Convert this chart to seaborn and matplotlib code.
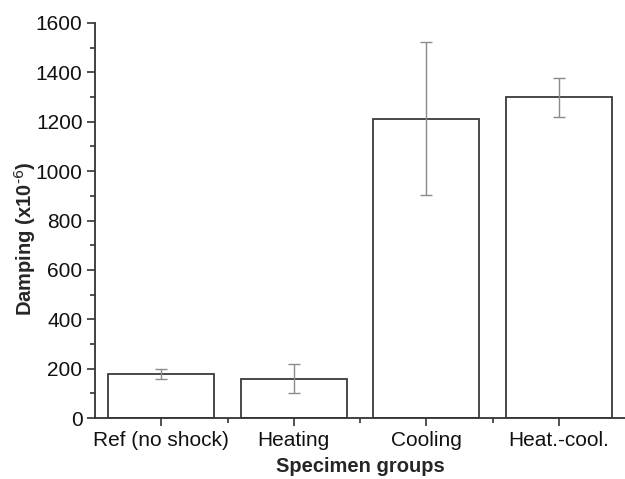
import matplotlib
matplotlib.use("Agg")
import matplotlib.pyplot as plt
import seaborn as sns
import numpy as np
import pandas as pd
from matplotlib.ticker import MultipleLocator

categories = ["Ref (no shock)", "Heating", "Cooling", "Heat.-cool."]
damping = [180, 160, 1212, 1300]
err_low = [20, 60, 310, 80]
err_high = [20, 60, 310, 78]

sns.set_style("ticks")
plt.rcParams['font.family'] = ['Liberation Sans', 'DejaVu Sans']

df = pd.DataFrame({"group": categories, "damping": damping})

fig = plt.figure(figsize=(6.25, 4.79), dpi=100)
ax = fig.add_axes([0.152, 0.127, 0.848, 0.825])

sns.barplot(data=df, x="group", y="damping", order=categories, ax=ax,
            color="white", edgecolor="#3a3a3a", linewidth=1.3, width=0.8,
            errorbar=None)
ax.errorbar(np.arange(len(categories)), damping, yerr=[err_low, err_high],
            fmt="none", ecolor="#8a8a8a", elinewidth=1.0, capsize=4, capthick=1.0)

ax.set_xlim(-0.5, 3.5)
ax.set_ylim(0, 1600)
ax.yaxis.set_major_locator(MultipleLocator(200))
ax.yaxis.set_minor_locator(MultipleLocator(100))
ax.set_xticks(np.arange(len(categories)))
ax.set_xticks(np.arange(len(categories) - 1) + 0.5, minor=True)

for s in ["top", "right"]:
    ax.spines[s].set_visible(False)
for s in ["left", "bottom"]:
    ax.spines[s].set_color("#333333")
    ax.spines[s].set_linewidth(1.3)

ax.tick_params(axis="both", which="major", direction="out", length=6, width=1.2,
               colors="#333333", labelsize=15, labelcolor="#111111", pad=3)
ax.tick_params(axis="both", which="minor", direction="out", length=3.5, width=1.2,
               colors="#333333")

ax.set_xlabel("Specimen groups", fontsize=14.5, fontweight="bold", labelpad=5)
ax.set_ylabel(r"Damping (x10$^{\text{-6}}$)", fontsize=14.5, fontweight="bold")
ax.yaxis.set_label_coords(-0.107, 0.455)

fig.savefig("out.png", dpi=100)
